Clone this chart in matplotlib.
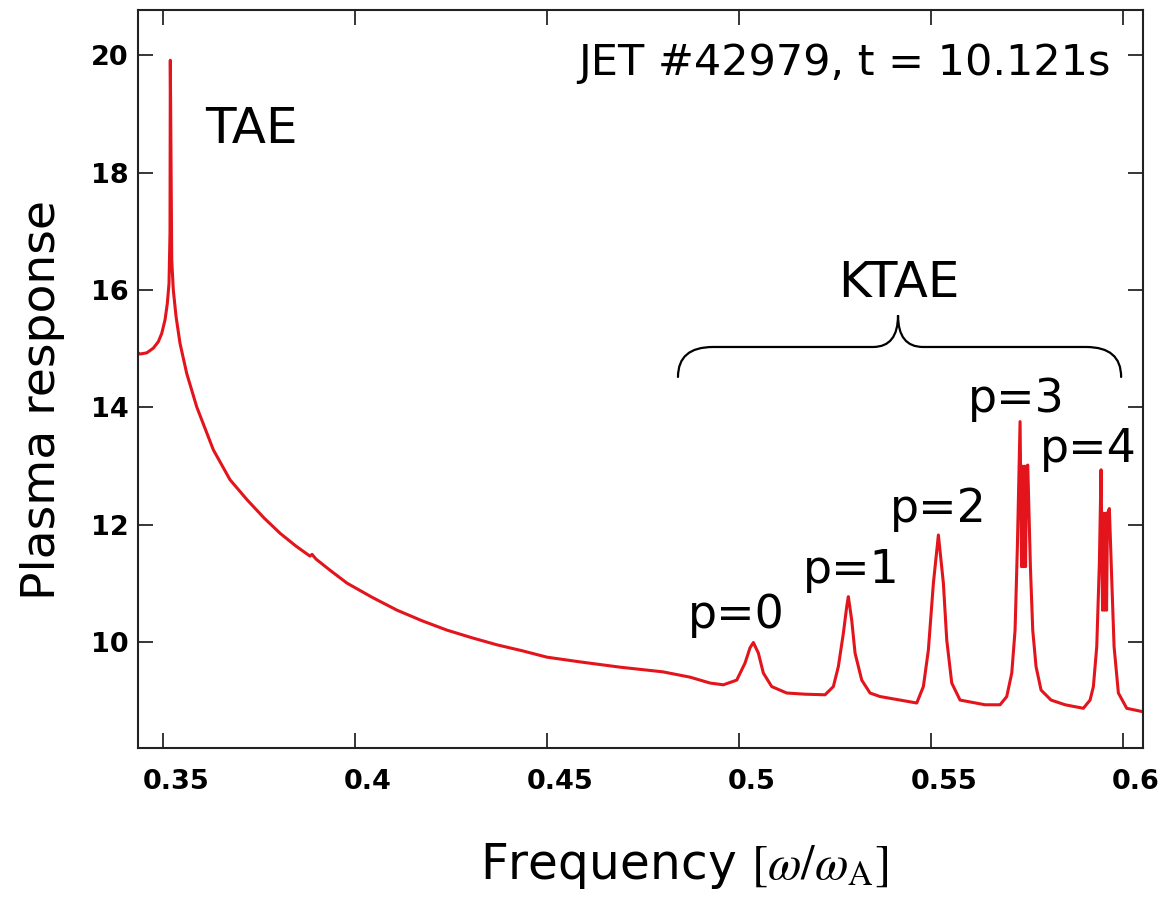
import numpy as np
import matplotlib
matplotlib.use("Agg")
import matplotlib.pyplot as plt
from matplotlib.path import Path
from matplotlib.patches import PathPatch
from matplotlib.transforms import ScaledTranslation

# ---------------------------------------------------------------------------
# Data (frequency in w/wA, plasma response)
# ---------------------------------------------------------------------------
# continuum + TAE peak
freq_tae = [0.34349, 0.34401, 0.34576, 0.34747, 0.34878, 0.34966, 0.35052, 0.35112,
            0.35156, 0.35182, 0.35190, 0.35227, 0.35268, 0.35339, 0.35443, 0.35617,
            0.35878, 0.36310, 0.36745, 0.37188, 0.37630, 0.38047, 0.38464, 0.38828,
            0.38880, 0.38984, 0.39349, 0.39792, 0.40443, 0.41094, 0.41745, 0.42396,
            0.43047, 0.43698, 0.44349, 0.45000, 0.45859, 0.46901, 0.48021, 0.48724,
            0.49245]
resp_tae = [14.93, 14.91, 14.93, 15.01, 15.12, 15.26, 15.49, 15.77,
            16.11, 16.97, 19.91, 16.51, 16.00, 15.55, 15.09, 14.58,
            14.01, 13.28, 12.77, 12.43, 12.12, 11.86, 11.64, 11.47,
            11.50, 11.42, 11.23, 11.01, 10.77, 10.55, 10.37, 10.21,
            10.08, 9.96, 9.86, 9.75, 9.67, 9.58, 9.50, 9.41,
            9.31]

# KTAE region (p = 0 ... 4)
freq_ktae = [0.49592, 0.49940, 0.50156, 0.50286, 0.50373, 0.50503, 0.50633, 0.50850,
             0.51242, 0.51719, 0.52240, 0.52456, 0.52586, 0.52717, 0.52804, 0.52846,
             0.52934, 0.53021, 0.53195, 0.53411, 0.53672, 0.54193, 0.54628, 0.54800,
             0.54930, 0.55061, 0.55191, 0.55321, 0.55409, 0.55539, 0.55755, 0.56406,
             0.56797, 0.56971, 0.57102, 0.57188, 0.57248, 0.57318, 0.57357, 0.57383,
             0.57409, 0.57435, 0.57461, 0.57487, 0.57518, 0.57587, 0.57648, 0.57734,
             0.57865, 0.58125, 0.58490, 0.58966, 0.59141, 0.59227, 0.59315, 0.59383,
             0.59427, 0.59466, 0.59492, 0.59518, 0.59544, 0.59570, 0.59596, 0.59643,
             0.59706, 0.59766, 0.59878, 0.60096, 0.60529]
resp_ktae = [9.28, 9.36, 9.65, 9.91, 10.00, 9.82, 9.48, 9.25,
             9.14, 9.12, 9.11, 9.25, 9.59, 10.16, 10.61, 10.78,
             10.38, 9.82, 9.36, 9.14, 9.08, 9.02, 8.97, 9.25,
             9.87, 11.01, 11.83, 11.01, 10.04, 9.31, 9.02, 8.94,
             8.94, 9.08, 9.48, 10.21, 11.63, 13.76, 11.29, 13.00,
             11.29, 13.00, 11.29, 13.00, 13.02, 11.29, 10.21, 9.59,
             9.19, 9.02, 8.94, 8.88, 9.02, 9.25, 9.93, 11.35,
             12.94, 10.55, 12.20, 10.55, 12.20, 10.55, 12.20, 12.28,
             11.06, 9.93, 9.14, 8.88, 8.82]

freq = freq_tae + freq_ktae
response = resp_tae + resp_ktae

xticks = [0.35, 0.4, 0.45, 0.5, 0.55, 0.6]
xtick_labels = ['0.35', '0.4', '0.45', '0.5', '0.55', '0.6']
yticks = [10, 12, 14, 16, 18, 20]

# mode labels: text, left x, baseline y
mode_labels = ['p=0', 'p=1', 'p=2', 'p=3', 'p=4']
mode_x = [0.4867, 0.5167, 0.5393, 0.5596, 0.5784]
mode_y = [10.25, 11.01, 12.05, 13.92, 13.07]

# curly brace over the KTAE peaks
brace_x0, brace_x1, brace_xm = 0.4841, 0.5995, 0.5414
brace_yend, brace_ybar, brace_ytip = 14.52, 15.03, 15.57
brace_r = 0.0091

plt.rcParams['font.family'] = 'DejaVu Sans'
plt.rcParams['mathtext.fontset'] = 'stix'

fig = plt.figure(figsize=(11.66, 9.01), dpi=100)
ax = fig.add_axes([0.1184, 0.1698, 0.8619, 0.8191])

ax.plot(freq, response, color='#e3141b', linewidth=2.2, solid_joinstyle='round')

ax.set_xlim(0.3435, 0.6052)
ax.set_ylim(8.204, 20.766)

ax.set_xticks(xticks)
ax.set_xticklabels(xtick_labels)
ax.set_yticks(yticks)
ax.tick_params(direction='in', length=10.8, width=1.1, top=True, right=True,
               labelsize=19.5, pad=7)
ax.tick_params(axis='x', pad=15)
for lab in ax.get_xticklabels() + ax.get_yticklabels():
    lab.set_fontweight('bold')
# the x tick labels sit a bit right of their ticks in the original
shift = ScaledTranslation(13 / 100, 0, fig.dpi_scale_trans)
for t in ax.xaxis.get_major_ticks():
    t.label1.set_transform(t.label1.get_transform() + shift)

for sp in ax.spines.values():
    sp.set_linewidth(1.5)
    sp.set_color('#222222')

# Text annotations
ax.text(0.5969, 19.66, 'JET #42979, t = 10.121s', fontsize=31,
        ha='right', va='baseline')
ax.text(0.3609, 18.50, 'TAE', fontsize=36, ha='left', va='baseline')
ax.text(0.5415, 15.88, 'KTAE', fontsize=36, ha='center', va='baseline')
for lab, xx, yy in zip(mode_labels, mode_x, mode_y):
    ax.text(xx, yy, lab, fontsize=33, ha='left', va='baseline')

# Brace
verts = [(brace_x0, brace_yend), (brace_x0, brace_ybar), (brace_x0 + brace_r, brace_ybar),
         (brace_xm - 0.0065, brace_ybar),
         (brace_xm, brace_ybar), (brace_xm, brace_ytip),
         (brace_xm, brace_ybar), (brace_xm + 0.0065, brace_ybar),
         (brace_x1 - brace_r, brace_ybar),
         (brace_x1, brace_ybar), (brace_x1, brace_yend)]
codes = [Path.MOVETO, Path.CURVE3, Path.CURVE3, Path.LINETO,
         Path.CURVE3, Path.CURVE3, Path.CURVE3, Path.CURVE3,
         Path.LINETO, Path.CURVE3, Path.CURVE3]
ax.add_patch(PathPatch(Path(verts, codes), facecolor='none', edgecolor='black',
                       linewidth=1.6, capstyle='round'))

# Axis labels placed where they sit in the original
fig.text(0.0364, 0.556, 'Plasma response', rotation=90, fontsize=34,
         ha='center', va='center')
fig.text(0.587, 1 - 879 / 901, r'Frequency $[\omega/\omega_{\rm A}]$',
         fontsize=35, ha='center', va='baseline')

fig.savefig('out.png', dpi=100)
